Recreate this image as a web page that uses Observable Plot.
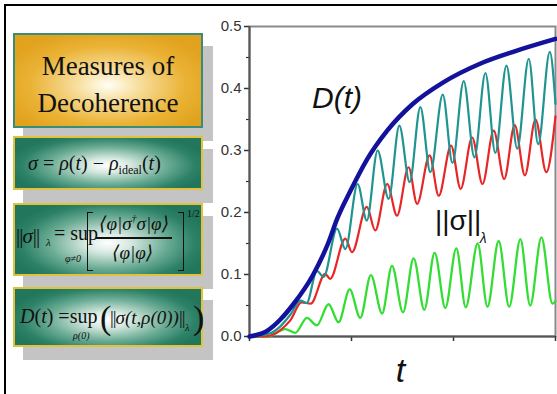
<!DOCTYPE html>
<html><head><meta charset="utf-8">
<script src="https://cdn.jsdelivr.net/npm/d3@7"></script>
<script src="https://cdn.jsdelivr.net/npm/@observablehq/plot@0.6"></script>
<style>
html,body{margin:0;padding:0;background:#fff;}
#wrap{position:relative;width:557px;height:394px;overflow:hidden;font-family:"Liberation Serif","DejaVu Serif",serif;}
#chart{position:absolute;left:0;top:0;}
.frameT{position:absolute;left:4px;top:4px;width:553px;height:2px;background:#000;}
.frameL{position:absolute;left:4px;top:4px;width:2px;height:390px;background:#000;}
.shadow{position:absolute;background:#c4c4c4;width:190px;}
.box{position:absolute;box-sizing:border-box;left:13px;width:190px;}
.orange{background:radial-gradient(ellipse 60% 62% at 50% 55%, #fffef6 0%, #f7dc98 30%, #eab234 70%, #e1a21e 100%);border:2px solid #3a8c78;}
.teal{background:radial-gradient(ellipse 55% 65% at 50% 55%, #ffffff 0%, #d6e9e1 22%, #6aab94 58%, #2c8167 85%, #22765b 100%);border:2px solid #e2c23c;}
.t{position:absolute;white-space:nowrap;color:#111;line-height:1;}
.i{font-style:italic;}
.n{font-style:normal;letter-spacing:-1px;}
.brl{position:absolute;border:1.6px solid #111;border-right:none;width:5px;}
.brr{position:absolute;border:1.6px solid #111;border-left:none;width:5px;}
.bar{position:absolute;height:1.5px;background:#111;}
</style></head>
<body>
<div id="wrap">
  <div id="chart"></div>
  <div class="frameT"></div><div class="frameL"></div>

  <div class="shadow" style="left:23px;top:46px;height:95px;"></div>
  <div class="shadow" style="left:23px;top:149px;height:54px;"></div>
  <div class="shadow" style="left:23px;top:216px;height:73px;"></div>
  <div class="shadow" style="left:23px;top:300px;height:60px;"></div>

  <div class="box orange" style="top:33px;height:95px;"></div>
  <div class="box teal" style="top:136px;height:54px;"></div>
  <div class="box teal" style="top:203px;height:73px;"></div>
  <div class="box teal" style="top:287px;height:60px;"></div>

  <div class="t" style="left:13px;width:190px;text-align:center;top:53px;font-size:27px;">Measures of</div>
  <div class="t" style="left:13px;width:190px;text-align:center;top:90px;font-size:27px;">Decoherence</div>

  <div class="t" style="left:28px;top:153px;font-size:20px;"><i>σ</i> = <i>ρ</i>(<i>t</i>) − <i>ρ</i><span style="font-size:12px;vertical-align:-4px;">ideal</span>(<i>t</i>)</div>

  <div class="t i" style="left:16px;top:226px;font-size:21px;"><span class="n">||</span>σ<span class="n">||</span></div>
  <div class="t i" style="left:46px;top:237px;font-size:11px;">λ</div>
  <div class="t" style="left:54px;top:223px;font-size:20px;">= sup</div>
  <div class="t i" style="left:65px;top:254px;font-size:10px;">φ≠0</div>
  <div class="brl" style="left:87px;top:212px;height:57px;"></div>
  <div class="t i" style="left:99px;top:214px;font-size:19px;">⟨φ|σ<span style="font-size:10px;vertical-align:8px;">†</span>σ|φ⟩</div>
  <div class="bar" style="left:96px;top:237px;width:76px;"></div>
  <div class="t i" style="left:112px;top:243px;font-size:19px;">⟨φ|φ⟩</div>
  <div class="brr" style="left:178px;top:212px;height:57px;"></div>
  <div class="t" style="left:187px;top:209px;font-size:10px;">1/2</div>

  <div class="t" style="left:20px;top:306px;font-size:20px;"><i>D</i>(<i>t</i>) =sup</div>
  <div class="t i" style="left:73px;top:331px;font-size:10px;">ρ(0)</div>
  <div class="t" style="left:100px;top:301px;font-size:34px;">(</div>
  <div class="t i" style="left:110px;top:308px;font-size:19px;"><span class="n">||</span>σ(t,ρ(0))<span class="n">||</span></div>
  <div class="t i" style="left:185px;top:323px;font-size:10px;">λ</div>
  <div class="t" style="left:193px;top:301px;font-size:34px;">)</div>
</div>
<script>
// ---- data ----
const blueT = [0, 0.18, 0.3, 0.42, 0.625, 0.77, 0.86, 0.99, 1.15, 1.35, 1.6, 1.9, 2.26, 2.6, 3.0];
const blueV = [0, 0.01, 0.027, 0.05, 0.10, 0.15, 0.19, 0.235, 0.285, 0.332, 0.375, 0.41, 0.44, 0.46, 0.48];

const tealT = [0, 0.2, 0.3, 0.4, 0.5, 0.56, 0.661, 0.726, 0.858, 0.94, 1.06, 1.15, 1.256, 1.364, 1.469, 1.57, 1.675, 1.773, 1.895, 1.99, 2.10, 2.205, 2.313, 2.41, 2.519, 2.625, 2.738, 2.83, 2.944, 3.0];
const tealV = [0, 0.005, 0.016, 0.035, 0.058, 0.054, 0.106, 0.096, 0.174, 0.141, 0.246, 0.187, 0.30, 0.222, 0.34, 0.249, 0.37, 0.265, 0.39, 0.28, 0.412, 0.289, 0.425, 0.296, 0.437, 0.303, 0.448, 0.31, 0.459, 0.375];

const redT = [0, 0.15, 0.3, 0.4, 0.51, 0.6, 0.743, 0.79, 0.94, 1.005, 1.15, 1.233, 1.35, 1.446, 1.56, 1.643, 1.766, 1.855, 1.976, 2.07, 2.183, 2.284, 2.394, 2.497, 2.6, 2.7, 2.804, 2.91, 3.0];
const redV = [0, 0, 0.01, 0.026, 0.055, 0.053, 0.101, 0.093, 0.158, 0.136, 0.209, 0.171, 0.246, 0.195, 0.273, 0.214, 0.292, 0.227, 0.308, 0.238, 0.321, 0.246, 0.332, 0.254, 0.341, 0.26, 0.35, 0.265, 0.355];

const greenT = [0, 0.18, 0.35, 0.45, 0.563, 0.66, 0.775, 0.873, 0.982, 1.086, 1.19, 1.30, 1.397, 1.505, 1.609, 1.714, 1.815, 1.92, 2.028, 2.12, 2.237, 2.333, 2.443, 2.546, 2.656, 2.752, 2.862, 2.97, 3.0];
const greenV = [0, 0, 0.012, 0.006, 0.03, 0.018, 0.052, 0.023, 0.076, 0.03, 0.099, 0.037, 0.114, 0.039, 0.126, 0.043, 0.135, 0.046, 0.142, 0.047, 0.15, 0.048, 0.154, 0.048, 0.157, 0.05, 0.16, 0.053, 0.057];

const yMajor = [0, 0.1, 0.2, 0.3, 0.4, 0.5];
const yMinor = [0.05, 0.15, 0.25, 0.35, 0.45];
const xTicks = [0, 1, 2, 3];

const italicLabels = [
  {t: 0.858, v: 0.384, s: "D(t)", size: 30},
  {t: 1.48, v: -0.056, s: "t", size: 34}
];
const normLabels = [{t: 2.045, v: 0.187, s: "||σ||", size: 28}];
const subLabels = [{t: 2.29, v: 0.158, s: "λ", size: 14}];

const series = [
  {t: greenT, v: greenV, color: "#33dd33", w: 2.3},
  {t: redT, v: redV, color: "#e82626", w: 2.2},
  {t: tealT, v: tealV, color: "#1f9490", w: 2.2},
  {t: blueT, v: blueV, color: "#12129c", w: 4.5}
];

const lineMarks = series.map(s => {
  const rows = s.t.map((t, i) => ({t, v: s.v[i]}));
  return Plot.line(rows, {x: "t", y: "v", stroke: s.color, strokeWidth: s.w, curve: "monotone-x"});
});

const plot = Plot.plot({
  width: 557, height: 394,
  marginLeft: 249, marginRight: 2, marginTop: 26, marginBottom: 58,
  x: {domain: [0, 3]},
  y: {domain: [0, 0.5]},
  style: {fontFamily: "'Liberation Sans', Arial, sans-serif", color: "#333", background: "transparent"},
  marks: [
    Plot.frame({stroke: "#8a8a8a", strokeWidth: 2}),
    Plot.axisY(yMajor, {tickSize: 5, tickPadding: 3, tickFormat: d => d.toFixed(1), fontSize: 15, label: null, strokeWidth: 1.5}),
    Plot.axisY(yMinor, {tickSize: 3, tickFormat: () => "", label: null, strokeWidth: 1.2}),
    Plot.axisX(xTicks, {tickSize: 5, tickFormat: () => "", label: null, strokeWidth: 1.5}),
    Plot.ruleX([0], {stroke: "#555", strokeWidth: 2}),
    Plot.ruleY([0], {stroke: "#555", strokeWidth: 2}),
    ...lineMarks,
    Plot.text(italicLabels, {x: "t", y: "v", text: "s", fontSize: d => d.size, fontStyle: "italic", fill: "#111"}),
    Plot.text(normLabels, {x: "t", y: "v", text: "s", fontSize: d => d.size, fill: "#111"}),
    Plot.text(subLabels, {x: "t", y: "v", text: "s", fontSize: 14, fontStyle: "italic", fill: "#111"})
  ]
});
document.getElementById("chart").appendChild(plot);
</script>
</body></html>
